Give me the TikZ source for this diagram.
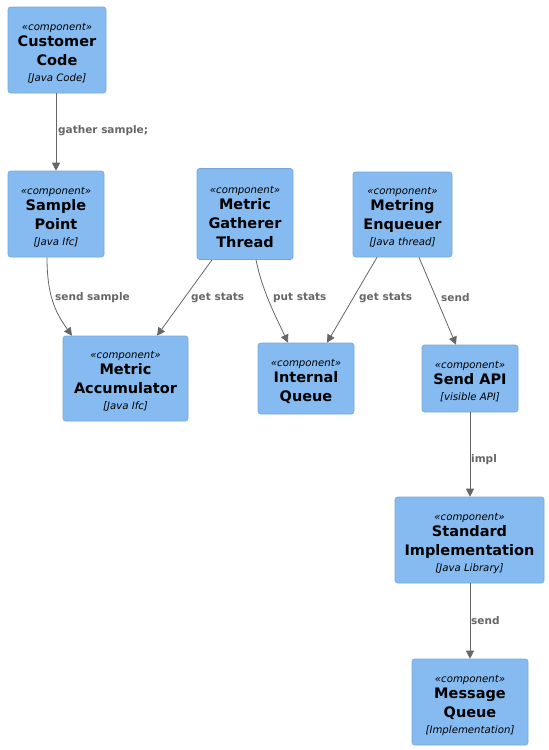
\documentclass[tikz,border=0pt]{standalone}
\usepackage{fontspec}
\setmainfont{DejaVu Sans}
\usetikzlibrary{arrows.meta}
\definecolor{compfill}{HTML}{85BBF0}
\definecolor{compdraw}{HTML}{78A8D8}
\definecolor{edgegray}{HTML}{666666}
\newcommand{\stsize}{\fontsize{10.2}{19}\selectfont\mdseries\itshape}
\newcommand{\ttsize}{\fontsize{14.5}{19}\selectfont\bfseries\upshape}
\newcommand{\tcsize}{\fontsize{10.2}{19}\selectfont\mdseries\itshape}
\newcommand{\stereo}{\stsize\rule{0pt}{13.5pt}«component»}
\begin{document}
\begin{tikzpicture}[x=1pt,y=-1pt,
  comp/.style={draw=compdraw,fill=compfill,rounded corners=2.5pt,align=center,inner sep=0pt,text=black,line width=0.6pt,font=\fontsize{14.5}{19}\selectfont},
  rel/.style={draw=edgegray,line width=0.8pt,-{Triangle[length=8pt,width=8pt]}},
  lbl/.style={text=edgegray,font=\fontsize{10.5}{12}\selectfont\bfseries,anchor=west,inner sep=0pt}]
\useasboundingbox (0,0) rectangle (549,750);
\node[comp,minimum width=98pt,minimum height=86pt] (cc) at (57,50) {\stereo\\[-3pt]\ttsize Customer\\\ttsize Code\\[-3pt]\tcsize [Java Code]};
\node[comp,minimum width=96pt,minimum height=86pt] (sp) at (56,214) {\stereo\\[-3pt]\ttsize Sample\\\ttsize Point\\[-3pt]\tcsize [Java Ifc]};
\node[comp,minimum width=96pt,minimum height=91pt] (mgt) at (245,214) {\stereo\\[-3pt]\ttsize Metric\\\ttsize Gatherer\\\ttsize Thread};
\node[comp,minimum width=99pt,minimum height=85pt] (me) at (402.5,214.5) {\stereo\\[-3pt]\ttsize Metring\\\ttsize Enqueuer\\[-3pt]\tcsize [Java thread]};
\node[comp,minimum width=125pt,minimum height=85pt] (ma) at (125.5,378.5) {\stereo\\[-3pt]\ttsize Metric\\\ttsize Accumulator\\[-3pt]\tcsize [Java Ifc]};
\node[comp,minimum width=96pt,minimum height=71pt] (iq) at (306,378.5) {\stereo\\[-3pt]\ttsize Internal\\\ttsize Queue};
\node[comp,minimum width=96pt,minimum height=67pt] (api) at (470,378.5) {\stereo\\[-3pt]\ttsize Send API\\[-3pt]\tcsize [visible API]};
\node[comp,minimum width=149pt,minimum height=86pt] (si) at (469.5,540) {\stereo\\[-3pt]\ttsize Standard\\\ttsize Implementation\\[-3pt]\tcsize [Java Library]};
\node[comp,minimum width=116pt,minimum height=86pt] (mq) at (470,702) {\stereo\\[-3pt]\ttsize Message\\\ttsize Queue\\[-3pt]\tcsize [Implementation]};

\draw[rel] ([xshift=-1pt]cc.south) -- (sp.north);
\draw[rel] ([xshift=-9pt]sp.south) .. controls (47,295) and (55,312) .. ([xshift=-53.5pt]ma.north);
\draw[rel] ([xshift=-33pt]mgt.south) -- ([xshift=31.5pt]ma.north);
\draw[rel] ([xshift=11pt]mgt.south) .. controls (262,290) and (275,315) .. ([xshift=-18pt]iq.north);
\draw[rel] ([xshift=-25.5pt]me.south) -- ([xshift=21pt]iq.north);
\draw[rel] ([xshift=16.5pt]me.south) -- ([xshift=-14pt]api.north);
\draw[rel] (api.south) -- ([xshift=0.5pt]si.north);
\draw[rel] ([xshift=0.5pt]si.south) -- (mq.north);

\node[lbl] (l1) at (58,131) {gather sample;};
\node[lbl] (l2) at (55,298) {send sample};
\node[lbl] (l3) at (191,298) {get stats};
\node[lbl] (l4) at (273,298) {put stats};
\node[lbl] (l5) at (359,298) {get stats};
\node[lbl] (l6) at (441,298) {send};
\node[lbl] (l7) at (471,460) {impl};
\node[lbl] (l8) at (471,621) {send};
\end{tikzpicture}
\end{document}
